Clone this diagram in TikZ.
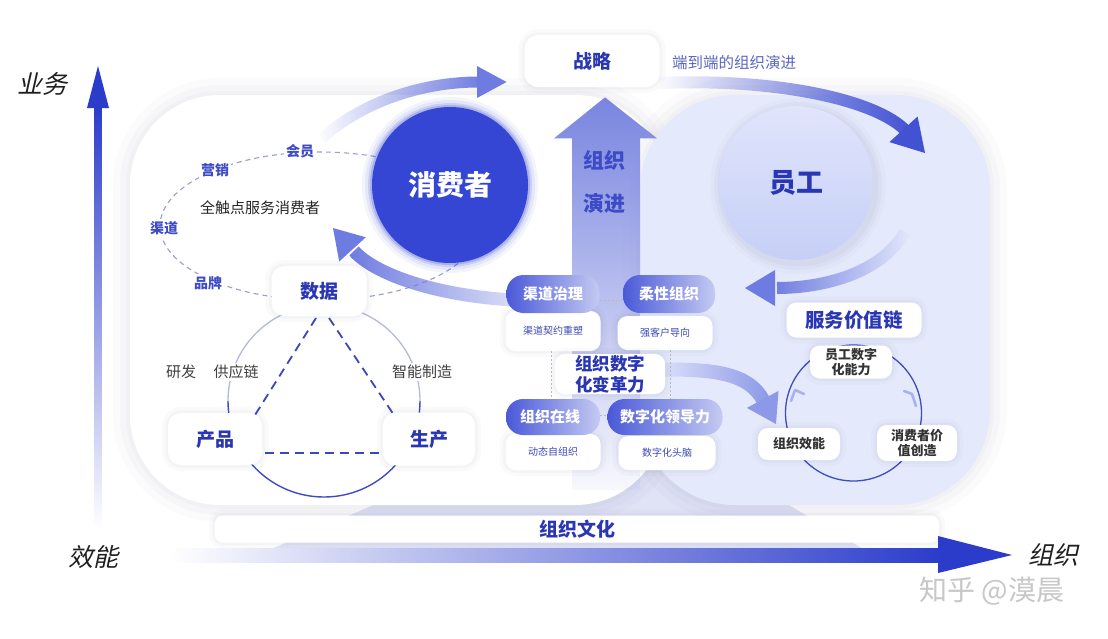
\documentclass[tikz,border=0pt]{standalone}
\usepackage{fontspec}
\setmainfont{Noto Sans CJK SC}
\newfontfamily\cjkit{Noto Sans CJK SC}[FakeSlant=0.22]
\usetikzlibrary{arrows.meta,fadings,calc}
\newcommand\fsz[1]{\fontsize{#1}{\fpeval{1.22*#1}}\selectfont}
\definecolor{tblue}{HTML}{2A37B4}
\definecolor{lblue}{HTML}{3D4CC6}
\definecolor{cons}{HTML}{3446D3}
\definecolor{panelR}{HTML}{E4E9FC}
\definecolor{pillL}{HTML}{4A59D8}
\definecolor{pillR}{HTML}{C4CAF2}
\definecolor{arrc}{HTML}{6E7BE0}
\definecolor{arrd}{HTML}{4352D3}
\definecolor{arrl}{HTML}{8D98E8}
\definecolor{axisc}{HTML}{2B3CCB}
\definecolor{axism}{HTML}{8C96E6}
\definecolor{dashc}{HTML}{9AA0C8}
\definecolor{triC}{HTML}{3A48B8}
\definecolor{ringc}{HTML}{3F4CC0}
\definecolor{ringl}{HTML}{B4BADF}
\definecolor{subc}{HTML}{3B4AB5}
\definecolor{upT}{HTML}{7985E0}
\definecolor{beamc}{HTML}{E0E3F6}
\definecolor{chevc}{HTML}{A9B2EF}
\definecolor{yuanT}{HTML}{E0E5FC}
\definecolor{yuanB}{HTML}{C6CFF6}
\definecolor{ddc}{HTML}{5B66C4}
\definecolor{shc}{HTML}{3A4070}
\tikzfading[name=fadeR, left color=transparent!100, right color=transparent!0]
\tikzfading[name=fadeL, left color=transparent!0, right color=transparent!100]
\tikzfading[name=fadeD, top color=transparent!0, bottom color=transparent!95]
\tikzset{
  every node/.style={inner sep=0pt, outer sep=0pt},
  softsh/.style={preaction={fill=none, draw=shc, draw opacity=0.025, line width=12pt},
                 preaction={fill=none, draw=shc, draw opacity=0.03, line width=5pt}},
  panelsh/.style={preaction={fill=none, draw=shc, draw opacity=0.018, line width=34pt},
                  preaction={fill=none, draw=shc, draw opacity=0.022, line width=20pt},
                  preaction={fill=none, draw=shc, draw opacity=0.025, line width=8pt}},
  card/.style={fill=white, rounded corners=10pt, softsh},
  btxt/.style={font=\bfseries\fsz{19}, text=tblue},
  pill/.style={rounded corners=17pt, left color=pillL, right color=pillR, text=white, font=\bfseries\fsz{15}},
  subt/.style={font=\fsz{10}, text=subc},
  lab/.style={font=\bfseries\fsz{14}, text=lblue, fill=white, inner sep=2pt},
  gtxt/.style={font=\fsz{15}, text=black!75, fill=white, inner sep=2pt},
  ctxt/.style={font=\bfseries\fsz{13}, text=black!80, align=center},
  axl/.style={font=\cjkit\fsz{25}, text=black!88},
  dsh/.style={dash pattern=on 5pt off 4pt, draw=dashc, line width=1.1pt},
  tri/.style={dash pattern=on 9pt off 6pt, draw=triC, line width=1.8pt},
  conn/.style={dash pattern=on 2pt off 2pt, draw=gray!55, line width=0.7pt},
  chev/.style={draw=chevc, line width=2.6pt, line cap=round, line join=round},
}
\begin{document}
\begin{tikzpicture}[x=1pt,y=-1pt]
\useasboundingbox (0,0) rectangle (1108,638);
\fill[white] (0,0) rectangle (1108,638);

% beam under the centre
\fill[beamc] (548,430) -- (662,430) -- (875,556) -- (255,556) -- cycle;

% panels
\fill[white, rounded corners=90pt, panelsh] (130,95) rectangle (665,505);
\fill[panelR, rounded corners=95pt, panelsh] (640,95) rectangle (990,505);

% dashed consumer ellipse
\draw[dsh] (320,226) ellipse[x radius=160, y radius=74];

% organisation-evolution up arrow
\fill[upT, path fading=fadeD] (605,97) -- (657,138) -- (640,138) -- (640,490) -- (572,490) -- (572,138) -- (554,138) -- cycle;
\node[font=\bfseries\fsz{21}, text=lblue] (zz1) at (604,160) {组织};
\node[font=\bfseries\fsz{21}, text=lblue] (zz2) at (604,203) {演进};

% strategy
\node[card, rounded corners=14pt, minimum width=135pt, minimum height=52pt] (zl) at (592,61) {};
\node[btxt] at (zl) {战略};
\node[font=\fsz{15.5}, text=ddc] (dd) at (734,63) {端到端的组织演进};

% curved arrows (faded shafts + solid heads)
\coordinate (a1s) at (322,138);
\coordinate (a1b) at (479,82);
\coordinate (a1t) at ($(zl.west)+(-18,21)$);
\draw[line width=11pt, arrc, path fading=fadeR] (a1s) .. controls (365,100) and (425,82) .. (a1b);
\fill[arrc] (a1t) -- (477,66) -- (477,98) -- cycle;

\coordinate (a2s) at (660,83);
\coordinate (a2b) at (906,131);
\coordinate (a2t) at (925,153);
\draw[line width=12pt, arrd, path fading=fadeR] (a2s) .. controls (780,78) and (878,101) .. (a2b);
\fill[arrd] (a2t) -- (889.4,142.1) -- (917.6,116.5) -- cycle;

% consumer circle
\foreach \r/\o in {88/0.05,85/0.08,82/0.14,80/0.22} {\fill[cons, opacity=\o] (450,185) circle[radius=\r];}
\node[circle, fill=cons, minimum size=156pt, text=white, font=\bfseries\fsz{28}] (xf) at (450,185) {消费者};

% employee circle with soft shadow
\foreach \w/\o in {22/0.025,14/0.03,7/0.035} {\draw[shc, opacity=\o, line width=\w pt] (798,186) circle[radius=77];}
\node[circle, top color=yuanT, bottom color=yuanB, minimum size=154pt, text=tblue, font=\bfseries\fsz{27}] (yg) at (796,183) {员工};

% arrows near circles
\coordinate (a3s) at (905,232);
\coordinate (a3b) at (777,288);
\coordinate (a3t) at (745,288);
\draw[line width=12pt, arrc, path fading=fadeL] (a3s) .. controls (880,275) and (820,288) .. (a3b);
\fill[arrc] (a3t) -- (775,270) -- (775,306) -- cycle;

\coordinate (a4s) at (565,300);
\coordinate (a4b) at (354,251);
\coordinate (a4t) at (333,228);
\draw[line width=13pt, arrc, path fading=fadeL] (a4s) .. controls (470,305) and (381,281) .. (a4b);
\fill[arrc] (a4t) -- (365.8,237.3) -- (339.2,261.5) -- cycle;

% ellipse labels
\node[lab] (hy) at (300,151) {会员};
\node[lab] (yx) at (215,170) {营销};
\node[lab] (qd) at (164,228) {渠道};
\node[lab] (pp) at (208,283) {品牌};
\node[font=\fsz{15}, text=black!85] (qcd) at (260,208) {全触点服务消费者};

% data - product - production
\draw[ringl, line width=1.3pt] (228,401) arc[start angle=180, end angle=360, radius=96];
\draw[ringc, line width=1.4pt] (420,401) arc[start angle=0, end angle=180, radius=96];
\node[gtxt] (yf) at (181,372) {研发};
\node[gtxt] (gyl) at (236,372) {供应链};
\node[gtxt] (znzz) at (422,372) {智能制造};
\node[card, rounded corners=13pt, minimum width=95pt, minimum height=50pt] (sj) at (319,291) {};
\node[btxt] at (sj) {数据};
\node[card, rounded corners=13pt, minimum width=94pt, minimum height=52pt] (cp) at (215,439) {};
\node[btxt] at (cp) {产品};
\node[card, rounded corners=13pt, minimum width=92pt, minimum height=53pt] (sc) at (429,439) {};
\node[btxt] at (sc) {生产};
\draw[tri] ($(sj.south)+(-3,2)$) -- ($(cp.north east)+(-7,2)$);
\draw[tri] ($(sj.south)+(10,2)$) -- ($(sc.north west)+(10,1)$);
\draw[tri] ($(cp.east)+(3,14)$) -- ($(sc.west)+(-1,14)$);

% arrow to service value chain
\coordinate (a5s) at (655,370);
\coordinate (a5b) at (763,400);
\coordinate (a5t) at (776,424);
\draw[line width=14pt, arrl, path fading=fadeR] (a5s) .. controls (715,368) and (749,374) .. (a5b);
\fill[arrl] (a5t) -- (746.9,407.9) -- (778.5,390.9) -- cycle;

% centre module
\node[card, minimum width=95pt, minimum height=40pt, subt] (s1) at (553,331) {渠道契约重塑};
\node[card, minimum width=95pt, minimum height=34pt, subt] (s2) at (665,333) {强客户导向};
\node[card, minimum width=95pt, minimum height=36pt, subt] (s3) at (553,452) {动态自组织};
\node[card, minimum width=97pt, minimum height=34pt, subt] (s4) at (667,453) {数字化头脑};
\node[pill, minimum width=93pt, minimum height=38pt] (p1) at (553,294) {渠道治理};
\node[pill, minimum width=92pt, minimum height=38pt] (p2) at (669,294) {柔性组织};
\node[pill, minimum width=94pt, minimum height=36pt] (p3) at (553,417) {\hspace*{-6pt}组织在线};
\node[pill, minimum width=115pt, minimum height=36pt] (p4) at (665,417) {数字化领导力};
\node[card, minimum width=110pt, minimum height=40pt, font=\bfseries\fsz{17.5}, text=tblue, align=center] (bg) at (610,374) {组织数字\\化变革力};
\draw[conn] ($(p1.east)+(0,6)$) -- ($(p2.west)+(0,6)$);
\draw[conn] ($(s1.south)+(-2,0)$) -- ($(p3.north)+(-2,0)$);
\draw[conn] ($(s2.south)+(5,0)$) -- ($(p4.north)+(5,0)$);
\draw[conn] ($(p3.east)+(0,-2)$) -- ($(p4.west)+(0,-2)$);

% service value chain
\draw[ringc, line width=1.3pt] (853.5,413) circle[radius=68];
\draw[chev] (791,401) -- (795,390) -- (804,394);
\draw[chev] (916,406) -- (912,394) -- (904,391);
\node[card, minimum width=135pt, minimum height=35pt, btxt, font=\bfseries\fsz{19.5}] (fw) at (854,320) {服务价值链};
\node[card, minimum width=82pt, minimum height=33pt, ctxt] (yn) at (851,362) {员工数字\\化能力};
\node[card, minimum width=82pt, minimum height=32pt, ctxt] (zx) at (799,444) {组织效能};
\node[card, minimum width=80pt, minimum height=36pt, ctxt] (xj) at (917,443) {消费者价\\值创造};

% culture bar
\node[card, rounded corners=8pt, minimum width=724pt, minimum height=27pt] (wh) at (577,529) {};
\node[btxt, font=\bfseries\fsz{19}] at (577,529) {组织文化};

% axes
\shade[top color=axisc, bottom color=white] (94.5,106) rectangle (101.5,528);
\coordinate (vt) at (98,66);
\fill[axisc] (vt) -- (109,108) -- (87,108) -- cycle;
\shade[left color=white, middle color=axism, right color=axisc] (170,548) rectangle (940,562);
\coordinate (ht) at (1012,555);
\fill[axisc] (ht) -- (938,536) -- (938,573) -- cycle;
\node[axl] (yw) at (42,84) {业务};
\node[axl] (xn) at (93,557) {效能};
\node[axl] (zzx) at (1053,555) {组织};

% watermark
\node[font=\fsz{28}, text=black!22] (wm) at (992,591) {知乎 @漠晨};
\end{tikzpicture}
\end{document}
